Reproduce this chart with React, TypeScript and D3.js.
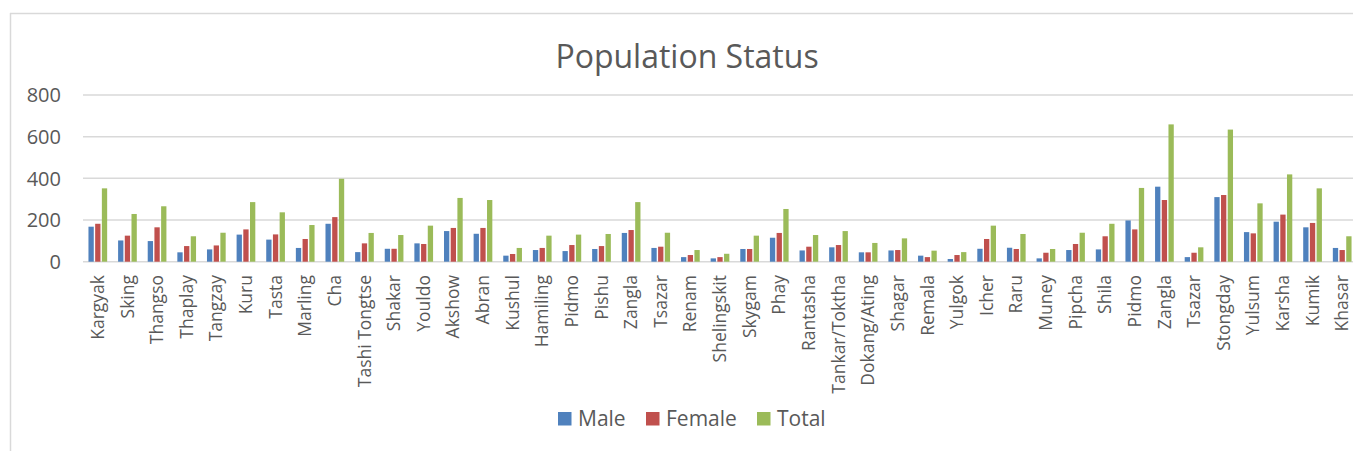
import React from "react";
import * as d3 from "d3";

const categories = [
  "Kargyak", "Sking", "Thangso", "Thaplay", "Tangzay", "Kuru", "Tasta", "Marling", "Cha",
  "Tashi Tongtse", "Shakar", "Youldo", "Akshow", "Abran", "Kushul", "Hamiling", "Pidmo",
  "Pishu", "Zangla", "Tsazar", "Renam", "Shelingskit", "Skygam", "Phay", "Rantasha",
  "Tankar/Toktha", "Dokang/Ating", "Shagar", "Remala", "Yulgok", "Icher", "Raru", "Muney",
  "Pipcha", "Shila", "Pidmo", "Zangla", "Tsazar", "Stongday", "Yulsum", "Karsha", "Kumik", "Khasar",
];

const male = [
  168, 102, 99, 45, 59, 130, 106, 66, 182,
  46, 62, 88, 147, 134, 29, 56, 51,
  61, 138, 66, 22, 16, 61, 115, 54,
  69, 45, 54, 29, 13, 62, 67, 16,
  56, 59, 198, 360, 22, 310, 142, 192, 165, 66,
];
const female = [
  182, 125, 165, 75, 78, 155, 131, 109, 214,
  88, 62, 85, 162, 162, 37, 66, 80,
  75, 152, 72, 32, 22, 61, 138, 72,
  80, 45, 56, 22, 32, 109, 61, 43,
  85, 122, 155, 296, 43, 320, 136, 226, 186, 56,
];
const total = [
  352, 229, 266, 122, 139, 286, 237, 176, 398,
  138, 128, 173, 306, 296, 66, 125, 130,
  133, 286, 139, 56, 38, 125, 253, 128,
  147, 90, 112, 53, 46, 173, 133, 61,
  139, 182, 354, 659, 69, 634, 280, 419, 352, 122,
];

const seriesNames = ["Male", "Female", "Total"];
const seriesColors = ["#4f81bd", "#c0504d", "#9bbb59"];
const yTicks = [0, 200, 400, 600, 800];

export default function App() {
  const W = 1353;
  const H = 451;
  const x0 = 83;
  const x1 = 1357;
  const yTop = 95;
  const yBottom = 261.7;

  const series = [male, female, total];
  const x = d3.scaleBand<number>().domain(categories.map((_, i) => i)).range([x0, x1]).paddingInner(0).paddingOuter(0);
  const y = d3.scaleLinear().domain([0, 800]).range([yBottom, yTop]);
  const bw = x.bandwidth();
  const barW = 5.3;
  const step = 6.7;
  const clusterW = step * 2 + barW;

  const labelFont = "'Open Sans', 'Noto Sans', sans-serif";

  return (
    <div style={{ position: "absolute", left: 0, top: 0 }}>
      <svg width={W} height={H} style={{ display: "block", background: "#fff" }}>
        {/* frame */}
        <line x1={10} y1={13.5} x2={W} y2={13.5} stroke="#d9d9d9" strokeWidth={1.5} />
        <line x1={10.5} y1={13} x2={10.5} y2={H} stroke="#d9d9d9" strokeWidth={1.5} />

        <text x={687} y={68} textAnchor="middle" fontFamily={labelFont} fontSize={32} fill="#595959">
          Population Status
        </text>

        {/* grid */}
        {yTicks.map((t) => (
          <g key={t}>
            <line x1={x0} x2={W} y1={y(t)} y2={y(t)} stroke="#d9d9d9" strokeWidth={1.5} />
            <text x={61} y={y(t)} dy="0.36em" textAnchor="end" fontFamily={labelFont} fontSize={20} fill="#595959">
              {t}
            </text>
          </g>
        ))}

        {/* bars */}
        {categories.map((c, i) => {
          const gx = (x(i) as number) + bw / 2 - clusterW / 2;
          return (
            <g key={i}>
              {series.map((s, k) => (
                <rect
                  key={k}
                  x={gx + k * step}
                  y={y(s[i])}
                  width={barW}
                  height={yBottom - y(s[i])}
                  fill={seriesColors[k]}
                />
              ))}
            </g>
          );
        })}

        {/* category labels */}
        {categories.map((c, i) => {
          const cx = (x(i) as number) + bw / 2;
          return (
            <text
              key={i}
              transform={`translate(${cx},275) rotate(-90)`}
              textAnchor="end"
              dy="0.35em"
              fontFamily={labelFont}
              fontSize={17.5}
              fill="#595959"
            >
              {c}
            </text>
          );
        })}

        {/* legend */}
        {seriesNames.map((n, k) => {
          const lx = [558, 646, 757][k];
          return (
            <g key={n}>
              <rect x={lx} y={412} width={13.5} height={13.5} fill={seriesColors[k]} />
              <text x={lx + 20} y={426} fontFamily={labelFont} fontSize={21} fill="#595959">
                {n}
              </text>
            </g>
          );
        })}
      </svg>
    </div>
  );
}
